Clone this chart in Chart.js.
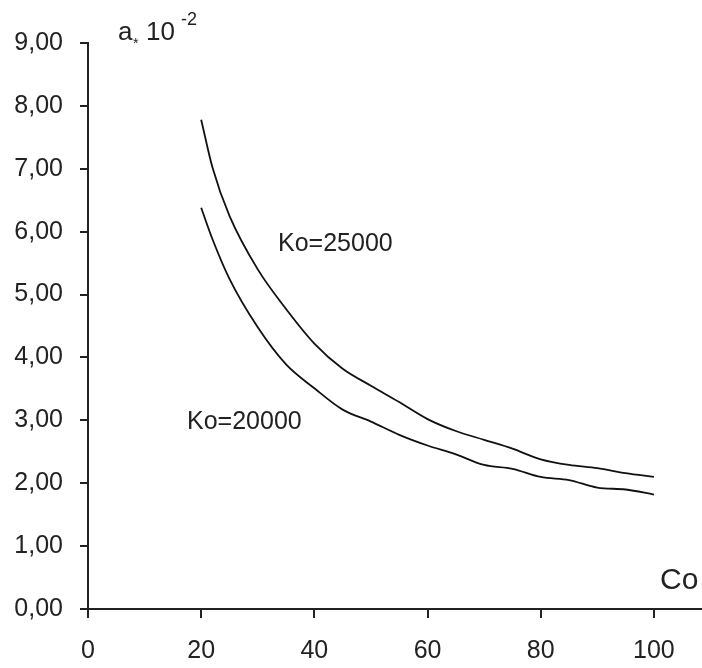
<!DOCTYPE html>
<html>
<head>
<meta charset="utf-8">
<script src="https://cdn.jsdelivr.net/npm/chart.js@4.4.0/dist/chart.umd.min.js"></script>
<style>
  html, body { margin: 0; padding: 0; background: #fff; }
  #wrap { width: 702px; height: 668px; position: relative; }
</style>
</head>
<body>
<div id="wrap"><canvas id="myChart" width="702" height="668"></canvas></div>
<script>
// values
var coValues = [20, 22, 25, 30, 35, 40, 45, 50, 55, 60, 65, 70, 75, 80, 85, 90, 95, 100];
var ko25000 = [7.78, 7.02, 6.25, 5.40, 4.77, 4.22, 3.82, 3.55, 3.29, 3.02, 2.83, 2.69, 2.55, 2.38, 2.29, 2.24, 2.16, 2.10];
var ko20000 = [6.38, 5.88, 5.25, 4.48, 3.89, 3.51, 3.17, 2.98, 2.77, 2.60, 2.46, 2.29, 2.23, 2.10, 2.05, 1.93, 1.90, 1.82];
var xTicks = [0, 20, 40, 60, 80, 100];
var yTicks = [0, 1, 2, 3, 4, 5, 6, 7, 8, 9];
var seriesNames = ["Ko=25000", "Ko=20000"];

function toPoints(ys) {
    var pts = [];
    for (var i = 0; i < coValues.length; i++) {
        pts.push({ x: coValues[i], y: ys[i] });
    }
    return pts;
}

var font = "'Liberation Sans', Arial, sans-serif";

// axis titles and curve labels
var textPlugin = {
    id: 'texts',
    afterDraw: function (chart) {
        var ctx = chart.ctx;
        ctx.save();
        ctx.fillStyle = '#222';
        ctx.textBaseline = 'alphabetic';
        ctx.textAlign = 'left';

        // a*10^-2
        ctx.font = '26px ' + font;
        ctx.fillText('a', 118, 40);
        ctx.font = '14px ' + font;
        ctx.fillText('*', 133, 48);
        ctx.font = '26px ' + font;
        ctx.fillText('10', 146, 40);
        ctx.font = '18px ' + font;
        ctx.fillText('-2', 181, 25);

        // Co
        ctx.font = '30px ' + font;
        ctx.fillText('Co', 660, 589);

        // curve labels
        ctx.font = '25px ' + font;
        ctx.fillText(seriesNames[0], 278, 251);
        ctx.fillText(seriesNames[1], 187, 429);
        ctx.restore();
    }
};

new Chart("myChart", {
    type: "line",
    data: {
        datasets: [{
            label: seriesNames[0],
            data: toPoints(ko25000),
            borderColor: "#111",
            borderWidth: 1.8,
            pointRadius: 0,
            cubicInterpolationMode: 'monotone',
            fill: false
        }, {
            label: seriesNames[1],
            data: toPoints(ko20000),
            borderColor: "#111",
            borderWidth: 1.8,
            pointRadius: 0,
            cubicInterpolationMode: 'monotone',
            fill: false
        }]
    },
    options: {
        responsive: false,
        animation: false,
        layout: { padding: { top: 43, right: 0, bottom: 0, left: 0 } },
        plugins: {
            legend: { display: false },
            tooltip: { enabled: false }
        },
        scales: {
            x: {
                type: 'linear',
                min: 0,
                max: 108.5,
                afterBuildTicks: function (scale) {
                    scale.ticks = xTicks.map(function (v) { return { value: v }; });
                },
                afterFit: function (scale) { scale.height = 59; },
                border: { display: true, color: '#222', width: 2 },
                grid: {
                    display: true,
                    drawOnChartArea: false,
                    drawTicks: true,
                    tickLength: 9,
                    color: '#222',
                    lineWidth: 2
                },
                ticks: {
                    color: '#222',
                    padding: 18,
                    maxRotation: 0,
                    font: { family: font, size: 25 }
                }
            },
            y: {
                min: 0,
                max: 9,
                afterBuildTicks: function (scale) {
                    scale.ticks = yTicks.map(function (v) { return { value: v }; });
                },
                afterFit: function (scale) { scale.width = 88; },
                border: { display: true, color: '#222', width: 2 },
                grid: {
                    display: true,
                    drawOnChartArea: false,
                    drawTicks: true,
                    tickLength: 8,
                    color: '#222',
                    lineWidth: 2
                },
                ticks: {
                    color: '#222',
                    padding: 17,
                    font: { family: font, size: 25 },
                    callback: function (v) { return v.toFixed(2).replace('.', ','); }
                }
            }
        }
    },
    plugins: [textPlugin]
});
</script>
</body>
</html>
